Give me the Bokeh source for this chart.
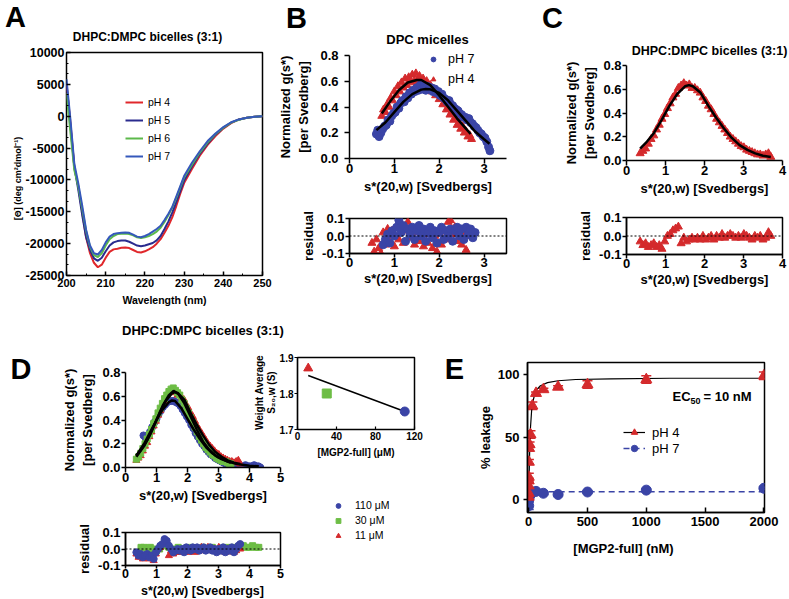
from math import pi
from bokeh.plotting import figure
from bokeh.models import (Range1d, FixedTicker, NumeralTickFormatter, Label, Legend,
                          LegendItem, Span, Whisker, ColumnDataSource, TeeHead)
from bokeh.layouts import row, column
from bokeh.embed import file_html
from bokeh.resources import INLINE

FONT = "Liberation Sans"
RED = "#d42a2c"
BLUE = "#3a44a6"
GREEN = "#6dbd45"
A_RED = "#e0272b"
A_NAVY = "#2a2b8e"
A_GREEN = "#5cb94b"
A_BLUE = "#3558bb"
NAN = float("nan")

# ---------------- Panel A : CD spectra ----------------
wavelength = [200, 201, 202, 203, 204, 205, 206, 207, 208, 209, 210, 211, 212, 213, 214, 215,
              216, 217, 218, 219, 220, 221, 222, 223, 224, 225, 226, 227, 228, 229, 230, 232,
              234, 236, 238, 240, 242, 244, 246, 248, 250]
cd_ph4 = [5000, -1000, -8000, -11000, -15000, -19000, -21500, -23000, -23700, -23300, -22200,
          -21300, -20900, -20800, -20650, -20600, -20700, -21000, -21300, -21400, -21200, -20900,
          -20550, -20000, -19300, -18300, -17200, -15850, -14100, -12200, -10500, -8300, -6200,
          -4500, -3100, -1950, -1100, -500, -250, -100, 0]
cd_ph5 = [5200, -1500, -8000, -11500, -15500, -19000, -21000, -22300, -22700, -22200, -21200,
          -20300, -19800, -19600, -19500, -19500, -19700, -20000, -20300, -20400, -20300, -20100,
          -19900, -19500, -18800, -17700, -16500, -15100, -13500, -11800, -10100, -7900, -5900,
          -4300, -2900, -1850, -1000, -500, -250, -100, 0]
cd_ph6 = [3600, -2500, -8500, -11000, -14500, -18000, -20500, -21800, -22100, -21500, -20300,
          -19300, -18800, -18500, -18450, -18400, -18500, -18700, -19000, -19100, -19000, -18800,
          -18500, -18100, -17500, -16600, -15500, -14300, -12800, -11200, -9600, -7600, -5700,
          -4100, -2800, -1800, -1000, -550, -250, -100, 0]
cd_ph7 = [5800, -500, -7500, -10500, -14000, -17800, -20300, -21500, -21700, -21000, -19800,
          -18900, -18500, -18350, -18300, -18250, -18300, -18600, -18900, -19000, -18800, -18500,
          -18100, -17700, -17200, -16300, -15300, -14200, -12600, -11000, -9400, -7300, -5500,
          -3900, -2700, -1700, -950, -500, -250, -100, 0]
cd_labels = ["pH 4", "pH 5", "pH 6", "pH 7"]

# ---------------- Panel B : DPC micelles ----------------
b_ph7_x = [0.60, 0.63, 0.66, 0.70, 0.74, 0.78, 0.82, 0.86, 0.90, 0.94, 0.98, 1.02, 1.06, 1.10,
           1.14, 1.18, 1.22, 1.26, 1.30, 1.34, 1.38, 1.42, 1.46, 1.50, 1.54, 1.58, 1.62, 1.66,
           1.70, 1.74, 1.78, 1.82, 1.86, 1.90, 1.94, 1.98, 2.02, 2.06, 2.10, 2.14, 2.18, 2.22,
           2.26, 2.30, 2.34, 2.38, 2.42, 2.46, 2.50, 2.54, 2.58, 2.62, 2.66, 2.70, 2.74, 2.78,
           2.82, 2.86, 2.90, 2.94, 2.98, 3.02, 3.06, 3.10, 3.13]
b_ph7_y = [0.19, 0.22, 0.17, 0.20, 0.23, 0.25, 0.26, 0.30, 0.29, 0.33, 0.35, 0.36, 0.40, 0.39,
           0.43, 0.45, 0.44, 0.48, 0.47, 0.51, 0.50, 0.53, 0.52, 0.55, 0.53, 0.57, 0.54, 0.56,
           0.53, 0.56, 0.54, 0.55, 0.52, 0.54, 0.51, 0.52, 0.49, 0.50, 0.47, 0.46, 0.44, 0.45,
           0.42, 0.41, 0.39, 0.38, 0.37, 0.35, 0.34, 0.32, 0.32, 0.30, 0.31, 0.28, 0.27, 0.25,
           0.24, 0.22, 0.20, 0.19, 0.17, 0.16, 0.13, 0.09, 0.06]
b_ph4_x = [0.72, 0.76, 0.80, 0.84, 0.88, 0.92, 0.96, 1.00, 1.04, 1.08, 1.12, 1.16, 1.20, 1.24,
           1.28, 1.32, 1.36, 1.40, 1.44, 1.48, 1.52, 1.56, 1.60, 1.64, 1.68, 1.72, 1.76, 1.80,
           1.84, 1.88, 1.92, 1.96, 2.00, 2.04, 2.08, 2.12, 2.16, 2.20, 2.24, 2.28, 2.32, 2.36,
           2.40, 2.44, 2.48, 2.52, 2.56, 2.60, 2.64, 2.68, 2.72]
b_ph4_y = [0.33, 0.38, 0.36, 0.42, 0.40, 0.47, 0.45, 0.52, 0.49, 0.56, 0.52, 0.59, 0.55, 0.62,
           0.57, 0.63, 0.59, 0.65, 0.60, 0.66, 0.61, 0.64, 0.59, 0.62, 0.57, 0.60, 0.55, 0.57,
           0.52, 0.54, 0.49, 0.51, 0.46, 0.48, 0.42, 0.44, 0.38, 0.40, 0.34, 0.36, 0.30, 0.31,
           0.26, 0.28, 0.23, 0.25, 0.20, 0.21, 0.17, 0.18, 0.15]
b_fit7_x = [0.6, 0.8, 1.0, 1.2, 1.4, 1.6, 1.7, 1.8, 2.0, 2.2, 2.4, 2.6, 2.8, 3.0, 3.12]
b_fit7_y = [0.22, 0.28, 0.36, 0.44, 0.50, 0.535, 0.54, 0.537, 0.51, 0.45, 0.37, 0.29, 0.21, 0.15, 0.115]
b_fit4_x = [0.72, 0.9, 1.1, 1.3, 1.5, 1.6, 1.8, 2.0, 2.2, 2.4, 2.6, 2.7]
b_fit4_y = [0.35, 0.44, 0.53, 0.59, 0.61, 0.61, 0.57, 0.49, 0.40, 0.31, 0.23, 0.19]
b_res7_x = [0.75, 0.80, 0.85, 0.90, 0.95, 1.00, 1.05, 1.10, 1.15, 1.20, 1.25, 1.30, 1.35, 1.40,
            1.45, 1.50, 1.55, 1.60, 1.65, 1.70, 1.75, 1.80, 1.85, 1.90, 1.95, 2.00, 2.05, 2.10,
            2.15, 2.20, 2.25, 2.30, 2.35, 2.40, 2.45, 2.50, 2.55, 2.60, 2.65, 2.70, 2.75, 2.80]
b_res7_y = [-0.05, -0.02, 0.01, -0.04, 0.03, 0.00, 0.05, 0.09, 0.02, 0.06, -0.03, 0.04, 0.01, 0.05,
            -0.02, 0.03, 0.06, 0.00, 0.04, -0.03, 0.02, 0.05, -0.01, 0.03, -0.04, 0.02, 0.05, -0.02,
            0.03, 0.00, 0.04, -0.03, 0.03, 0.05, 0.00, 0.04, -0.02, 0.05, 0.01, 0.04, -0.01, 0.02]
b_res4_x = [0.50, 0.55, 0.60, 0.65, 0.70, 0.75, 0.80, 0.85, 0.90, 0.95, 1.00, 1.05, 1.10, 1.15,
            1.20, 1.25, 1.30, 1.35, 1.40, 1.45, 1.50, 1.55, 1.60, 1.65, 1.70, 1.75, 1.80, 1.85,
            1.90, 1.95, 2.00, 2.05, 2.10, 2.15, 2.20, 2.25, 2.30, 2.35, 2.40, 2.45, 2.50, 2.55,
            2.60, 2.65, 2.70]
b_res4_y = [-0.04, -0.09, -0.02, -0.07, -0.10, 0.02, -0.05, 0.04, -0.03, 0.03, -0.06, 0.05, -0.02,
            0.07, -0.04, 0.03, 0.08, -0.01, 0.04, -0.05, 0.02, -0.03, 0.05, -0.06, 0.01, -0.04,
            0.03, -0.07, 0.00, -0.09, 0.02, -0.05, 0.04, -0.02, 0.08, 0.09, 0.01, 0.05, -0.03,
            0.04, -0.05, 0.02, -0.08, 0.03, 0.00]
b_labels = ["pH 7", "pH 4"]

# ---------------- Panel C (and D, 11 uM) : bicelles ----------------
c_x = [0.35, 0.42, 0.49, 0.56, 0.63, 0.70, 0.77, 0.84, 0.91, 0.98, 1.05, 1.12, 1.19, 1.26, 1.33,
       1.40, 1.47, 1.54, 1.61, 1.68, 1.75, 1.82, 1.89, 1.96, 2.03, 2.10, 2.17, 2.24, 2.31, 2.38,
       2.45, 2.52, 2.59, 2.66, 2.73, 2.80, 2.87, 2.94, 3.01, 3.08, 3.15, 3.22, 3.29, 3.36, 3.43,
       3.50, 3.57, 3.64, 3.70]
c_y = [0.06, 0.08, 0.10, 0.14, 0.18, 0.21, 0.26, 0.30, 0.35, 0.39, 0.44, 0.48, 0.53, 0.56, 0.61,
       0.63, 0.65, 0.63, 0.64, 0.61, 0.61, 0.59, 0.57, 0.53, 0.50, 0.46, 0.43, 0.39, 0.35, 0.32,
       0.29, 0.26, 0.23, 0.20, 0.18, 0.16, 0.14, 0.12, 0.11, 0.09, 0.08, 0.07, 0.06, 0.05, 0.05,
       0.04, 0.05, 0.06, 0.03]
c_res = [-0.03, -0.05, -0.04, -0.06, -0.05, -0.04, -0.06, -0.05, -0.07, -0.03, 0.00, 0.01, 0.03,
         0.04, 0.05, -0.04, -0.01, -0.03, -0.02, -0.01, -0.02, -0.01, -0.02, 0.00, -0.02, -0.01,
         0.00, -0.02, 0.00, -0.01, 0.01, -0.01, 0.00, 0.01, 0.00, -0.01, 0.00, -0.01, 0.01, 0.00,
         -0.01, -0.02, 0.00, -0.01, 0.00, -0.02, -0.01, 0.02, 0.00]
c_fit_x = [0.35, 0.5, 0.7, 0.9, 1.1, 1.3, 1.5, 1.6, 1.7, 1.9, 2.1, 2.3, 2.5, 2.7, 2.9, 3.1, 3.3, 3.5, 3.7]
c_fit_y = [0.10, 0.15, 0.23, 0.34, 0.46, 0.56, 0.625, 0.635, 0.625, 0.57, 0.46, 0.36, 0.27, 0.19,
           0.13, 0.09, 0.06, 0.04, 0.03]

# ---------------- Panel D : concentration series ----------------
d_30_x = [0.35, 0.42, 0.49, 0.56, 0.63, 0.70, 0.77, 0.84, 0.91, 0.98, 1.05, 1.12, 1.19, 1.26,
          1.33, 1.40, 1.47, 1.54, 1.61, 1.68, 1.75, 1.82, 1.89, 1.96, 2.03, 2.10, 2.17, 2.24,
          2.31, 2.38, 2.45, 2.52, 2.59, 2.66, 2.73, 2.80, 2.87, 2.94, 3.01, 3.08, 3.15, 3.22,
          3.29, 3.36, 3.40]
d_30_y = [0.07, 0.09, 0.12, 0.16, 0.20, 0.24, 0.28, 0.32, 0.37, 0.41, 0.46, 0.50, 0.54, 0.58,
          0.61, 0.64, 0.66, 0.67, 0.65, 0.63, 0.61, 0.57, 0.54, 0.50, 0.46, 0.42, 0.38, 0.34,
          0.30, 0.26, 0.23, 0.20, 0.17, 0.15, 0.13, 0.11, 0.10, 0.08, 0.07, 0.06, 0.05, 0.05,
          0.04, 0.03, 0.03]
d_110_x = [0.58, 0.65, 0.72, 0.79, 0.86, 0.93, 1.00, 1.07, 1.14, 1.21, 1.28, 1.35, 1.42, 1.49,
           1.56, 1.63, 1.70, 1.77, 1.84, 1.91, 1.98, 2.05, 2.12, 2.19, 2.26, 2.33, 2.40, 2.47,
           2.54, 2.61, 2.68, 2.75, 2.82, 2.89, 2.96, 3.03, 3.10, 3.17, 3.24, 3.31, 3.38, 3.45,
           3.52, 3.59, 3.66, 3.73, 3.80, 3.87, 3.94, 4.01, 4.08, 4.15, 4.22, 4.29, 4.35]
d_110_y = [0.27, 0.25, 0.27, 0.30, 0.34, 0.38, 0.41, 0.45, 0.48, 0.51, 0.53, 0.55, 0.56, 0.56,
           0.56, 0.55, 0.54, 0.52, 0.49, 0.46, 0.43, 0.40, 0.36, 0.33, 0.29, 0.26, 0.23, 0.20,
           0.18, 0.15, 0.13, 0.11, 0.10, 0.08, 0.07, 0.06, 0.05, 0.04, 0.03, 0.03, 0.02, 0.02,
           0.02, 0.01, 0.02, 0.01, 0.01, 0.02, 0.01, 0.01, 0.01, 0.02, 0.01, 0.01, 0.00]
d_fit110_x = [0.35, 0.6, 0.8, 1.0, 1.2, 1.4, 1.5, 1.6, 1.8, 2.0, 2.2, 2.4, 2.6, 2.8, 3.0, 3.3, 3.6, 4.0, 4.3]
d_fit110_y = [0.10, 0.20, 0.30, 0.40, 0.49, 0.55, 0.565, 0.56, 0.50, 0.41, 0.32, 0.24, 0.17,
              0.12, 0.085, 0.05, 0.03, 0.015, 0.01]
d_fit30_x = [0.35, 0.6, 0.8, 1.0, 1.2, 1.4, 1.55, 1.7, 1.9, 2.1, 2.3, 2.5, 2.7, 2.9, 3.1, 3.4]
d_fit30_y = [0.09, 0.18, 0.28, 0.40, 0.52, 0.61, 0.645, 0.62, 0.54, 0.43, 0.32, 0.22, 0.15,
             0.10, 0.07, 0.04]
d_res110_y = [-0.02, -0.04, -0.03, -0.05, -0.04, -0.03, -0.05, -0.04, -0.06, -0.02, 0.00, 0.02,
              0.03, 0.06, 0.05, 0.02, 0.00, -0.02, -0.01, 0.00, -0.01, 0.00, -0.02, 0.01, 0.00,
              -0.01, 0.01, 0.00, 0.01, -0.01, 0.00, 0.01, -0.01, 0.00, 0.01, -0.01, 0.00, -0.02,
              0.00, -0.01, 0.01, -0.02, 0.00, -0.01, 0.01, -0.02, 0.00, 0.02, 0.03]
d_res30_x = [0.5, 0.6, 0.7, 0.8, 0.9, 1.0, 1.1, 1.2, 1.3, 1.4, 1.5, 1.6, 1.7, 1.8, 1.9, 2.0, 2.1,
             2.2, 2.3, 2.4, 2.5, 2.6, 2.7, 2.8, 2.9, 3.0, 3.1, 3.2, 3.3, 3.4, 3.5, 3.6, 3.7, 3.8,
             3.9, 4.0, 4.1, 4.2, 4.3]
d_res30_y = [0.01, 0.01, 0.00, 0.01, 0.00, -0.01, 0.00, 0.02, 0.03, 0.01, -0.01, 0.00, 0.01,
             0.00, -0.01, 0.00, 0.01, 0.00, -0.01, 0.00, 0.01, 0.00, 0.00, 0.01, 0.00, -0.01,
             0.00, 0.01, 0.00, 0.01, 0.00, 0.01, 0.01, 0.02, 0.01, 0.01, 0.02, 0.01, 0.01]
d_labels = ["110 \u03bcM", "30 \u03bcM", "11 \u03bcM"]
inset_conc = [110, 30, 11]
inset_s = [1.75, 1.80, 1.87]
inset_fit_x = [11, 110]
inset_fit_y = [1.85, 1.75]

# ---------------- Panel E : leakage ----------------
e_conc4 = [0.06, 0.12, 0.24, 0.49, 0.98, 1.95, 3.9, 7.8, 15.6, 31.25, 62.5, 125, 250, 500, 1000, 2000]
e_ph4 = [2, 5, 11, 15, 18, 30, 41, 44, 52, 75, 85, 88, 90, 92, 96, 99]
e_ph4_err = [2, 2, 3, 2, 3, 2, 2, 2, 3, 3, 1, 1, 1, 3, 3, 3]
e_conc7 = [0.24, 0.98, 3.9, 15.6, 31.25, 62.5, 125, 250, 500, 1000, 2000]
e_ph7 = [-5, 0, 2, 4, 6, 6.5, 5, 4, 6, 7.5, 9]
e_ph7_err = [3, 2, 1, 1, 1, 1, 1, 1, 1, 1, 1]
e_fit4_x = [0, 1, 2, 4, 6, 10, 15, 25, 40, 60, 100, 160, 250, 400, 700, 1200, 2000]
e_fit4_y = [0, 4, 9, 19, 28, 46, 57, 71, 80, 87, 91, 93.5, 95, 96, 96.5, 97, 97]
e_fit7_x = [0, 2000]
e_fit7_y = [6.3, 6.3]
e_labels = ["pH 4", "pH 7"]

W, H = 789, 599


# ---------------- helpers ----------------
def mkfig(w, h, xr, yr, L, R, T, B, box=False, transparent=False):
    p = figure(width=w, height=h, x_range=Range1d(*xr), y_range=Range1d(*yr),
               output_backend="svg", toolbar_location=None,
               min_border_left=L, min_border_right=R, min_border_top=T, min_border_bottom=B)
    p.xgrid.visible = False
    p.ygrid.visible = False
    if box:
        p.outline_line_color = "black"
        p.outline_line_width = 1.5
        p.outline_line_alpha = 1
    else:
        p.outline_line_color = None
    if transparent:
        p.border_fill_color = None
        p.background_fill_color = None
    return p


def style_axis(ax, ticks, size=13, bold=True, tick_in=0, tick_out=5, standoff=2, lw=1.5,
               label="", label_size=13, label_standoff=5, fmt=None, minor=None, minor_in=0):
    ax.ticker = FixedTicker(ticks=ticks, minor_ticks=minor if minor else [])
    ax.axis_line_width = lw
    ax.axis_line_color = "black"
    ax.major_tick_line_width = lw
    ax.major_tick_line_color = "black"
    ax.major_tick_in = tick_in
    ax.major_tick_out = tick_out
    if minor:
        ax.minor_tick_line_color = "black"
        ax.minor_tick_line_width = 1
        ax.minor_tick_in = minor_in
        ax.minor_tick_out = 0
    else:
        ax.minor_tick_line_color = None
    ax.major_label_text_font = FONT
    ax.major_label_text_font_style = "bold" if bold else "normal"
    ax.major_label_text_font_size = f"{size}px"
    ax.major_label_text_color = "black"
    ax.major_label_standoff = standoff
    ax.axis_label = label if label else None
    ax.axis_label_text_font = FONT
    ax.axis_label_text_font_style = "bold"
    ax.axis_label_text_font_size = f"{label_size}px"
    ax.axis_label_text_color = "black"
    ax.axis_label_standoff = label_standoff
    if fmt:
        ax.formatter = NumeralTickFormatter(format=fmt)


def mklegend(items, loc, gw, gh, standoff, size):
    return Legend(items=items, location=loc, orientation="vertical", border_line_color=None,
                  background_fill_alpha=0, padding=0, spacing=0, margin=0,
                  glyph_width=gw, glyph_height=gh, label_height=gh, label_width=10,
                  label_standoff=standoff, label_text_font=FONT,
                  label_text_font_size=f"{size}px", label_text_color="black")


# transparent overlay covering the whole page: page pixel coordinates as data coordinates
pO = figure(width=W, height=H, x_range=Range1d(0, W), y_range=Range1d(H, 0),
            output_backend="svg", toolbar_location=None, x_axis_location=None,
            y_axis_location=None, min_border_left=0, min_border_right=0, min_border_top=0,
            min_border_bottom=0)
pO.xgrid.visible = False
pO.ygrid.visible = False
pO.outline_line_color = None
pO.border_fill_color = None
pO.background_fill_color = None


def txt(px, py, text, size, bold=True, align="center", baseline="middle", angle=0):
    pO.add_layout(Label(x=px, y=py, x_units="data", y_units="data", text=text,
                        text_font=FONT, text_font_size=f"{size}px",
                        text_font_style="bold" if bold else "normal",
                        text_align=align, text_baseline=baseline, angle=angle,
                        text_color="black"))


def key_glyph(marker, size, col):
    # glyph-only renderer used solely as a legend key on the overlay
    return pO.scatter([NAN], [NAN], marker=marker, size=size, fill_color=col, line_color=col)


NORM_LABEL = "Normalized g(s*)\n[per Svedberg]"
S_LABEL = "s*(20,w) [Svedbergs]"

# ================= Panel A =================
pA = mkfig(275, 308, (200, 250), (-25000, 10000), 66, 13, 52, 33, box=True)
style_axis(pA.xaxis[0], [200, 210, 220, 230, 240, 250], size=11, tick_in=4, tick_out=0,
           standoff=3, label="Wavelength (nm)", label_size=10.5, label_standoff=4,
           minor=[205, 215, 225, 235, 245], minor_in=2)
style_axis(pA.yaxis[0], [-25000, -20000, -15000, -10000, -5000, 0, 5000, 10000], size=12.5,
           tick_in=4, tick_out=0, standoff=2, fmt="0",
           minor=[v + k * 5000 / 3 for v in range(-25000, 10000, 5000) for k in (1, 2)], minor_in=2)
pA.xaxis[0].axis_line_color = None
pA.yaxis[0].axis_line_color = None
rA = []
for ys, col in zip([cd_ph4, cd_ph5, cd_ph6, cd_ph7], [A_RED, A_NAVY, A_GREEN, A_BLUE]):
    rA.append(pA.line(wavelength, ys, line_color=col, line_width=2))
pA.add_layout(mklegend([LegendItem(label=l, renderers=[r]) for l, r in zip(cd_labels, rA)],
                       (59, 110.5), 18, 18, 5, 10.5))
txt(15, 16.5, "A", 29)
txt(147, 36, "DHPC:DMPC bicelles (3:1)", 12)
txt(17, 178, "[\u0398] (deg cm\u00b2dmol\u207b\u00b9)", 9, angle=pi / 2)

# ================= Panel B =================
pB = mkfig(255, 198, (0, 3.5), (0, 0.8), 74, 24, 55, 40)
style_axis(pB.xaxis[0], [0, 1, 2, 3], tick_out=5, standoff=0, label=S_LABEL, label_standoff=3)
style_axis(pB.yaxis[0], [0, 0.2, 0.4, 0.6, 0.8], tick_out=5, standoff=6, fmt="0.0",
           label=NORM_LABEL, label_standoff=6)
pB.scatter(b_ph4_x, b_ph4_y, marker="triangle", size=8, fill_color=RED, line_color=RED)
pB.scatter(b_ph7_x, b_ph7_y, marker="circle", size=8, fill_color=BLUE, line_color=BLUE)
pB.line(b_fit4_x, b_fit4_y, line_color="black", line_width=2.5)
pB.line(b_fit7_x, b_fit7_y, line_color="black", line_width=2.5)
kb7 = key_glyph("circle", 8, BLUE)
kb4 = key_glyph("triangle", 8, RED)
pO.add_layout(mklegend([LegendItem(label=b_labels[0], renderers=[kb7]),
                        LegendItem(label=b_labels[1], renderers=[kb4])],
                       (427, H - 89.3), 12, 20, 9, 12.5))
txt(296, 17.5, "B", 29)
txt(427, 39, "DPC micelles", 13)

pBr = mkfig(255, 110, (0, 3.5), (-0.1, 0.1), 74, 24, 20, 55, box=True)
style_axis(pBr.xaxis[0], [0, 1, 2, 3], tick_out=4, standoff=0, label=S_LABEL, label_standoff=1)
style_axis(pBr.yaxis[0], [-0.1, 0, 0.1], tick_out=4, standoff=1, fmt="0.0",
           label="residual", label_standoff=3)
pBr.scatter(b_res4_x, b_res4_y, marker="triangle", size=8, fill_color=RED, line_color=RED)
pBr.scatter(b_res7_x, b_res7_y, marker="circle", size=8, fill_color=BLUE, line_color=BLUE)
pBr.add_layout(Span(location=0, dimension="width", line_color="black", line_width=1,
                    line_dash="2 2"))

# ================= Panel C =================
pC = mkfig(259, 198, (0, 4), (0, 0.8), 96, 7, 65, 38)
style_axis(pC.xaxis[0], [0, 1, 2, 3, 4], tick_out=5, standoff=0, label=S_LABEL, label_standoff=3)
style_axis(pC.yaxis[0], [0, 0.2, 0.4, 0.6, 0.8], tick_out=4, standoff=1, fmt="0.0",
           label=NORM_LABEL, label_standoff=3)
pC.scatter(c_x, c_y, marker="triangle", size=8, fill_color=RED, line_color=RED)
pC.line(c_fit_x, c_fit_y, line_color="black", line_width=2.5)
txt(552, 17.5, "C", 29)
txt(709, 50, "DHPC:DMPC bicelles (3:1)", 12.5)

pCr = mkfig(259, 110, (0, 4), (-0.1, 0.1), 96, 7, 19, 54, box=True)
style_axis(pCr.xaxis[0], [0, 1, 2, 3, 4], tick_out=4, standoff=0, label=S_LABEL, label_standoff=1)
style_axis(pCr.yaxis[0], [-0.1, 0, 0.1], tick_out=4, standoff=1, fmt="0.0",
           label="residual", label_standoff=3)
pCr.scatter(c_x, c_res, marker="triangle", size=8, fill_color=RED, line_color=RED)
pCr.add_layout(Span(location=0, dimension="width", line_color="black", line_width=1,
                    line_dash="2 2"))

# ================= Panel D =================
pD = mkfig(294, 198, (0, 5), (0, 0.8), 125, 14, 64, 39)
style_axis(pD.xaxis[0], [0, 1, 2, 3, 4, 5], tick_out=5, standoff=0, label=S_LABEL, label_standoff=3)
style_axis(pD.yaxis[0], [0, 0.2, 0.4, 0.6, 0.8], tick_out=4, standoff=1, fmt="0.0",
           label=NORM_LABEL, label_standoff=4)
pD.scatter(d_110_x, d_110_y, marker="circle", size=7, fill_color=BLUE, line_color=BLUE)
pD.scatter(c_x, c_y, marker="triangle", size=7, fill_color=RED, line_color=RED)
pD.scatter(d_30_x, d_30_y, marker="square", size=6, fill_color=GREEN, line_color=GREEN)
pD.line(c_fit_x, c_fit_y, line_color="black", line_width=2.5)
pD.line(d_fit30_x, d_fit30_y, line_color="black", line_width=2.5)
pD.line(d_fit110_x, d_fit110_y, line_color="black", line_width=2.5)
txt(20.5, 368.5, "D", 29)
txt(202.5, 330, "DHPC:DMPC bicelles (3:1)", 13)

pDr = mkfig(294, 93, (0, 5), (-0.1, 0.1), 125, 14, 26, 34, box=True)
style_axis(pDr.xaxis[0], [0, 1, 2, 3, 4, 5], size=12.5, tick_out=3, standoff=0)
style_axis(pDr.yaxis[0], [-0.1, 0, 0.1], tick_out=4, standoff=1, fmt="0.0",
           label="residual", label_standoff=3)
pDr.scatter(d_res30_x, d_res30_y, marker="square", size=6, fill_color=GREEN, line_color=GREEN)
pDr.scatter(c_x, c_res, marker="triangle", size=7, fill_color=RED, line_color=RED)
pDr.scatter(c_x, d_res110_y, marker="circle", size=7, fill_color=BLUE, line_color=BLUE)
pDr.add_layout(Span(location=0, dimension="width", line_color="black", line_width=1,
                    line_dash="2 2"))
txt(202, 590, S_LABEL, 12.5, baseline="alphabetic")

# inset (overlaps D by a negative margin, transparent)
pI = mkfig(191, 162, (0, 120), (1.7, 1.9), 48, 26, 49, 41, box=True, transparent=True)
style_axis(pI.xaxis[0], [0, 40, 80, 120], size=10, tick_in=3, tick_out=0, standoff=2, lw=1.2,
           label="[MGP2-full] (\u03bcM)", label_size=10, label_standoff=4)
style_axis(pI.yaxis[0], [1.7, 1.8, 1.9], size=10, tick_out=3, standoff=1, lw=1.2, fmt="0.0")
pI.line(inset_fit_x, inset_fit_y, line_color="black", line_width=1.5)
inset_markers = ["circle", "square", "triangle"]
inset_cols = [BLUE, GREEN, RED]
for cx, sv, mk, col in zip(inset_conc, inset_s, inset_markers, inset_cols):
    pI.scatter([cx], [sv], marker=mk, size=9, fill_color=col, line_color=col)
txt(259, 392, "Weight Average", 10, angle=pi / 2)
txt(271, 392, "S\u2082\u2080,w (S)", 10, angle=pi / 2)

# legend of panel D (drawn on the overlay)
legD_r = [key_glyph(mk, 6, col) for mk, col in zip(inset_markers, inset_cols)]
pO.add_layout(mklegend([LegendItem(label=l, renderers=[r]) for l, r in zip(d_labels, legD_r)],
                       (332, H - 542.5), 12, 15, 11, 10.5))

# ================= Panel E =================
pE = mkfig(349, 291, (-10, 2005), (-10.4, 109.6), 87, 25, 54, 87, box=True)
style_axis(pE.xaxis[0], [0, 500, 1000, 1500, 2000], tick_in=5, tick_out=0, standoff=4, fmt="0")
style_axis(pE.yaxis[0], [0, 50, 100], tick_out=4, standoff=4, fmt="0",
           label="% leakage", label_standoff=2)
src4 = ColumnDataSource(dict(x=e_conc4, lo=[v - e for v, e in zip(e_ph4, e_ph4_err)],
                             hi=[v + e for v, e in zip(e_ph4, e_ph4_err)]))
src7 = ColumnDataSource(dict(x=e_conc7, lo=[v - e for v, e in zip(e_ph7, e_ph7_err)],
                             hi=[v + e for v, e in zip(e_ph7, e_ph7_err)]))
for src, col in ((src7, BLUE), (src4, RED)):
    wk = Whisker(base="x", lower="lo", upper="hi", source=src, line_color=col, line_width=1.5,
                 upper_head=TeeHead(size=10, line_color=col, line_width=1.5),
                 lower_head=TeeHead(size=10, line_color=col, line_width=1.5))
    pE.add_layout(wk)
l7 = pE.line(e_fit7_x, e_fit7_y, line_color=BLUE, line_width=1.5, line_dash="6 4")
s7 = pE.scatter(e_conc7, e_ph7, marker="circle", size=10, fill_color=BLUE, line_color=BLUE)
l4 = pE.line(e_fit4_x, e_fit4_y, line_color="black", line_width=1.2)
s4 = pE.scatter(e_conc4, e_ph4, marker="triangle", size=11, fill_color=RED, line_color=RED)
pE.add_layout(mklegend([LegendItem(label=e_labels[0], renderers=[l4, s4]),
                        LegendItem(label=e_labels[1], renderers=[l7, s7])],
                       (96, 56), 22, 16, 7, 13))
txt(454, 368.5, "E", 29)
txt(623, 548, "[MGP2-full] (nM)", 13)
txt(672, 396, "EC", 13, align="left")
txt(690, 400, "50", 9, align="left")
txt(703, 396, "= 10 nM", 13, align="left")

pO.margin = (-H, 0, 0, 0)
layout = column(
    row(pA, column(pB, pBr), column(pC, pCr)),
    row(column(pD, pDr), column(pI, margin=(0, 0, 0, -45)), column(pE)),
    pO,
)

open("out.html", "w").write(file_html(layout, INLINE))
